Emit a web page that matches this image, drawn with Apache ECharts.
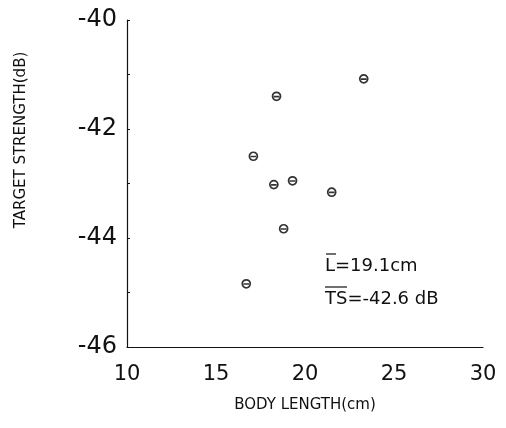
<!DOCTYPE html>
<html>
<head>
<meta charset="utf-8">
<script src="https://cdn.jsdelivr.net/npm/echarts@6/dist/echarts.min.js"></script>
<style>
  html, body { margin: 0; padding: 0; background: #fff; }
  #chart { width: 506px; height: 428px; }
</style>
</head>
<body>
<div id="chart"></div>
<script>
// body length (cm) and target strength (dB)
var bodyLength = [23.3, 18.4, 17.1, 18.25, 19.3, 21.5, 18.8, 16.7];
var targetStrength = [-41.08, -41.4, -42.5, -43.02, -42.95, -43.16, -43.83, -44.84];
var xTicks = [10, 15, 20, 25, 30];
var yTicks = [-46, -44, -42, -40];

var points = bodyLength.map(function (v, i) { return [v, targetStrength[i]]; });

var chart = echarts.init(document.getElementById("chart"));
var font = "DejaVu Sans";
chart.setOption({
  backgroundColor: "#fff",
  animation: false,
  grid: { left: 127, right: 23, top: 20, bottom: 81 },
  xAxis: {
    type: "value",
    min: 10, max: 30, interval: 5,
    name: "BODY LENGTH(cm)",
    nameLocation: "middle",
    nameGap: 51,
    nameTextStyle: { fontFamily: font, fontSize: 15, color: "#111" },
    axisLine: { show: true, lineStyle: { color: "#111", width: 1.2 } },
    axisTick: { show: false },
    splitLine: { show: false },
    axisLabel: {
      fontFamily: font, fontSize: 21, color: "#111", margin: 17,
      formatter: function (v) { return xTicks.indexOf(v) >= 0 ? String(v) : ""; }
    }
  },
  yAxis: {
    type: "value",
    min: -46, max: -40, interval: 1,
    axisLine: { show: true, lineStyle: { color: "#111", width: 1.2 } },
    axisTick: { show: true, inside: true, length: 3, lineStyle: { color: "#111" } },
    splitLine: { show: false },
    axisLabel: {
      fontFamily: font, fontSize: 24, color: "#111", margin: 10,
      formatter: function (v) { return yTicks.indexOf(v) >= 0 ? String(v) : ""; }
    }
  },
  graphic: [
    { type: "text", x: 21, y: 140, rotation: Math.PI / 2,
      style: { text: "TARGET STRENGTH(dB)", font: "15px " + font, fill: "#111", align: "center", verticalAlign: "middle" } },
    { type: "text", x: 325, y: 257, style: { text: "L=19.1cm", font: "18px " + font, fill: "#111" } },
    { type: "line", shape: { x1: 326, y1: 254, x2: 336, y2: 254 }, style: { stroke: "#111", lineWidth: 1.2 } },
    { type: "text", x: 325, y: 290, style: { text: "TS=-42.6 dB", font: "18px " + font, fill: "#111" } },
    { type: "line", shape: { x1: 325, y1: 287, x2: 347, y2: 287 }, style: { stroke: "#111", lineWidth: 1.2 } }
  ],
  series: [{
    type: "scatter",
    data: points,
    symbol: "path://M0,5A5,5 0 1,1 10,5A5,5 0 1,1 0,5ZM1.5,5.3L8.5,5.3",
    symbolSize: 8,
    itemStyle: { color: "#fff", borderColor: "#000", borderWidth: 1.7 }
  }]
});
</script>
</body>
</html>
